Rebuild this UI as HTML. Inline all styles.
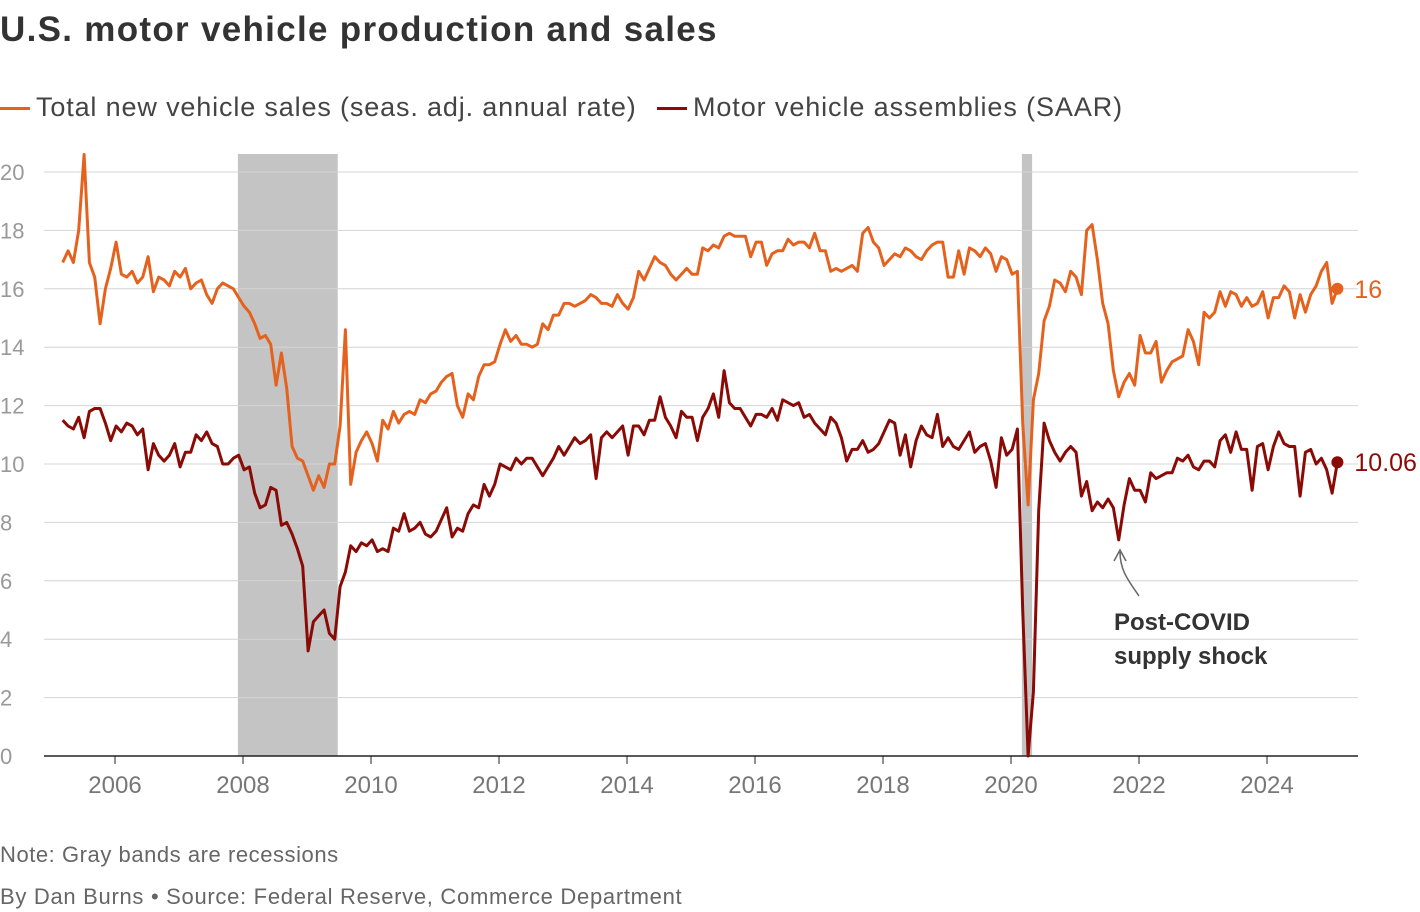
<!DOCTYPE html>
<html><head><meta charset="utf-8">
<style>
body{margin:0;background:#fff;font-family:"Liberation Sans",sans-serif;}
#wrap{position:relative;width:1420px;height:912px;overflow:hidden;}
.t{position:absolute;white-space:nowrap;}
</style></head>
<body>
<div id="wrap">
<div class="t" style="left:0;top:10px;font-size:35px;font-weight:bold;color:#333;letter-spacing:1.3px;">U.S. motor vehicle production and sales</div>
<div class="t" style="left:0;top:92px;font-size:27px;color:#444;letter-spacing:0.85px;"><span style="display:inline-block;width:30px;height:3px;background:#e5621e;vertical-align:middle;margin-right:6px"></span>Total new vehicle sales (seas. adj. annual rate)</div>
<div class="t" style="left:657px;top:92px;font-size:27px;color:#444;letter-spacing:0.9px;"><span style="display:inline-block;width:30px;height:3px;background:#8a0a06;vertical-align:middle;margin-right:6px"></span>Motor vehicle assemblies (SAAR)</div>
<svg id="chart" width="1420" height="912" style="position:absolute;left:0;top:0"></svg>
<div class="t" style="left:0;top:842px;font-size:22px;color:#666;letter-spacing:0.55px;">Note: Gray bands are recessions</div>
<div class="t" style="left:0;top:884px;font-size:22px;color:#666;letter-spacing:0.7px;">By Dan Burns • Source: Federal Reserve, Commerce Department</div>
</div>
<script>
const yTicks=[0,2,4,6,8,10,12,14,16,18,20];
const xTicks=[2006,2008,2010,2012,2014,2016,2018,2020,2022,2024];
const recessions=[[2007.92,2009.48],[2020.17,2020.33]];
const sales=[16.9,17.3,16.9,18,20.6,16.9,16.4,14.8,16,16.7,17.6,16.5,16.4,16.6,16.2,16.4,17.1,15.9,16.4,16.3,16.1,16.6,16.4,16.7,16,16.2,16.3,15.8,15.5,16,16.2,16.1,16,15.7,15.4,15.2,14.8,14.3,14.4,14.1,12.7,13.8,12.6,10.6,10.2,10.1,9.6,9.1,9.6,9.2,10,10,11.3,14.6,9.3,10.4,10.8,11.1,10.7,10.1,11.5,11.2,11.8,11.4,11.7,11.8,11.7,12.2,12.1,12.4,12.5,12.8,13,13.1,12,11.6,12.4,12.2,13,13.4,13.4,13.5,14.1,14.6,14.2,14.4,14.1,14.1,14,14.1,14.8,14.6,15.1,15.1,15.5,15.5,15.4,15.5,15.6,15.8,15.7,15.5,15.5,15.4,15.8,15.5,15.3,15.7,16.6,16.3,16.7,17.1,16.9,16.8,16.5,16.3,16.5,16.7,16.5,16.5,17.4,17.3,17.5,17.4,17.8,17.9,17.8,17.8,17.8,17.1,17.6,17.6,16.8,17.2,17.3,17.3,17.7,17.5,17.6,17.6,17.4,17.9,17.3,17.3,16.6,16.7,16.6,16.7,16.8,16.6,17.9,18.1,17.6,17.4,16.8,17,17.2,17.1,17.4,17.3,17.1,17,17.3,17.5,17.6,17.6,16.4,16.4,17.3,16.5,17.4,17.3,17.1,17.4,17.2,16.6,17.1,17,16.5,16.6,11.4,8.6,12.2,13.1,14.9,15.4,16.3,16.2,15.9,16.6,16.4,15.8,18,18.2,17,15.5,14.8,13.2,12.3,12.8,13.1,12.7,14.4,13.8,13.8,14.2,12.8,13.2,13.5,13.6,13.7,14.6,14.2,13.4,15.2,15,15.2,15.9,15.4,15.9,15.8,15.4,15.7,15.4,15.5,15.9,15,15.7,15.7,16.1,15.9,15,15.8,15.2,15.8,16.1,16.6,16.9,15.5,16];
const assemblies=[11.5,11.3,11.2,11.6,10.9,11.8,11.9,11.9,11.4,10.8,11.3,11.1,11.4,11.3,11,11.2,9.8,10.7,10.3,10.1,10.3,10.7,9.9,10.4,10.4,11,10.8,11.1,10.7,10.6,10,10,10.2,10.3,9.8,9.9,9,8.5,8.6,9.2,9.1,7.9,8,7.6,7.1,6.5,3.6,4.6,4.8,5,4.2,4,5.8,6.3,7.2,7,7.3,7.2,7.4,7,7.1,7,7.8,7.7,8.3,7.7,7.8,8,7.6,7.5,7.7,8.1,8.5,7.5,7.8,7.7,8.3,8.6,8.5,9.3,8.9,9.3,10,9.9,9.8,10.2,10,10.2,10.2,9.9,9.6,9.9,10.2,10.6,10.3,10.6,10.9,10.7,10.8,11,9.5,10.9,11.1,10.9,11.1,11.3,10.3,11.3,11.3,11,11.5,11.5,12.3,11.6,11.3,10.9,11.8,11.6,11.6,10.8,11.6,11.9,12.4,11.6,13.2,12.1,11.9,11.9,11.6,11.3,11.7,11.7,11.6,11.9,11.5,12.2,12.1,12,12.1,11.6,11.7,11.4,11.2,11,11.6,11.4,10.9,10.1,10.5,10.5,10.8,10.4,10.5,10.7,11.1,11.5,11.4,10.3,11,9.9,10.8,11.3,11,10.9,11.7,10.6,10.9,10.6,10.5,10.8,11.1,10.4,10.6,10.7,10.1,9.2,10.9,10.3,10.5,11.2,5,0,2.2,8.4,11.4,10.8,10.4,10.1,10.4,10.6,10.4,8.9,9.4,8.4,8.7,8.5,8.8,8.5,7.4,8.6,9.5,9.1,9.1,8.7,9.7,9.5,9.6,9.7,9.7,10.2,10.1,10.3,9.9,9.8,10.1,10.1,9.9,10.8,11,10.4,11.1,10.5,10.5,9.1,10.6,10.7,9.8,10.6,11.1,10.7,10.6,10.6,8.9,10.4,10.5,10,10.2,9.8,9,10.06];
const endYear=2025.1;
const NS="http://www.w3.org/2000/svg";
const svg=document.getElementById('chart');
const X=y=>115+(y-2006)*64;
const Y=v=>756-v*29.2;
function el(t,a,p){const e=document.createElementNS(NS,t);for(const k in a)e.setAttribute(k,a[k]);(p||svg).appendChild(e);return e;}
recessions.forEach(r=>{const e=el('rect',{x:X(r[0]),y:154,width:X(r[1])-X(r[0]),height:602,fill:'#c4c4c4'});

});
yTicks.forEach(v=>{const g=el('line',{x1:44,x2:1358,y1:Y(v),y2:Y(v),stroke:v===0?'#222':'#d4d4d4','stroke-width':v===0?1.5:1});


const t=el('text',{x:0,y:Y(v)+8,'font-size':22,fill:'#999','font-family':'Liberation Sans'});t.textContent=v;

});
xTicks.forEach(yr=>{const tk=el('line',{x1:X(yr),x2:X(yr),y1:756,y2:764,stroke:'#222'});


const t=el('text',{x:X(yr),y:793,'font-size':24,fill:'#777','text-anchor':'middle','font-family':'Liberation Sans'});t.textContent=yr;

});
function series(vals,color,name){const n=vals.length;
const pts=vals.map((v,i)=>X(endYear-(n-1-i)/12).toFixed(1)+','+Y(v).toFixed(1)).join(' ');
const p=el('polyline',{points:pts,fill:'none',stroke:color,'stroke-width':3,'stroke-linejoin':'round'});


const c=el('circle',{cx:X(endYear),cy:Y(vals[n-1]),r:6,fill:color});


const t=el('text',{x:X(endYear)+17,y:Y(vals[n-1])+9,'font-size':25,fill:color,'font-family':'Liberation Sans'});t.textContent=String(vals[n-1]);

}
series(sales,'#e5621e','sales');
series(assemblies,'#8a0a06','assemblies');
const a=el('path',{d:'M1139,596 C1128,580 1120,570 1120,552 M1114,561 L1120,550 L1126,561',fill:'none',stroke:'#666','stroke-width':1.5});


[['Post-COVID',630],['supply shock',664]].forEach(d=>{const t=el('text',{x:1114,y:d[1],'font-size':24,'font-weight':'bold',fill:'#333','font-family':'Liberation Sans'});t.textContent=d[0];

});
</script>
</body></html>
